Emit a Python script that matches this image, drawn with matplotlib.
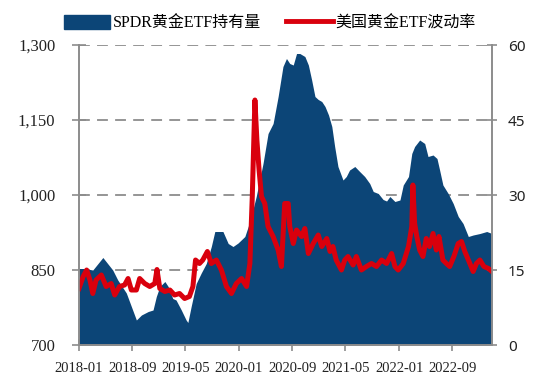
import matplotlib
matplotlib.use('Agg')
import matplotlib.pyplot as plt
import matplotlib.dates as mdates
import pandas as pd
from matplotlib.patches import Patch
from matplotlib.lines import Line2D

plt.rcParams['font.family'] = ['Liberation Serif', 'Noto Sans CJK SC']

# SPDR gold ETF holdings (tonnes, left axis)
spdr_dates = ['2018-01-01', '2018-01-28', '2018-03-05', '2018-04-20', '2018-06-04', '2018-06-27',
              '2018-08-05', '2018-08-28', '2018-09-20', '2018-10-13', '2018-11-13', '2018-12-05',
              '2018-12-20', '2019-01-05', '2019-01-28', '2019-02-12', '2019-03-05', '2019-03-20',
              '2019-04-13', '2019-05-05', '2019-05-13', '2019-05-28', '2019-06-20', '2019-07-13',
              '2019-08-05', '2019-08-28', '2019-09-13', '2019-10-20', '2019-11-13', '2019-12-05',
              '2019-12-28', '2020-01-28', '2020-02-20', '2020-03-20', '2020-04-20', '2020-05-13',
              '2020-06-05', '2020-06-28', '2020-07-20', '2020-08-05', '2020-08-20', '2020-09-05',
              '2020-09-20', '2020-10-05', '2020-10-28', '2020-11-13', '2020-11-28', '2020-12-13',
              '2020-12-28', '2021-01-13', '2021-01-28', '2021-02-13', '2021-02-28', '2021-03-13',
              '2021-03-28', '2021-04-20', '2021-05-05', '2021-05-20', '2021-06-13', '2021-07-05',
              '2021-07-28', '2021-08-20', '2021-09-05', '2021-09-28', '2021-10-20', '2021-11-05',
              '2021-11-20', '2021-12-13', '2022-01-05', '2022-01-20', '2022-02-13', '2022-02-28',
              '2022-03-13', '2022-04-05', '2022-04-28', '2022-05-13', '2022-06-05', '2022-06-23',
              '2022-07-05', '2022-07-20', '2022-08-13', '2022-09-05', '2022-09-28', '2022-10-20',
              '2022-11-13', '2022-12-05', '2023-01-05', '2023-02-05', '2023-03-01']
spdr_values = [853, 853, 850, 875, 850, 830,
               804, 777, 750, 760, 767, 770,
               797, 817, 827, 817, 793, 790,
               770, 750, 745, 777, 823, 844,
               863, 897, 927, 927, 903, 897,
               904, 917, 947, 997, 1063, 1123,
               1143, 1197, 1257, 1273, 1263, 1260,
               1283, 1283, 1277, 1260, 1230, 1197,
               1191, 1187, 1177, 1160, 1137, 1097,
               1057, 1030, 1037, 1050, 1057, 1047,
               1037, 1023, 1007, 1003, 991, 988,
               997, 987, 990, 1020, 1037, 1083,
               1097, 1110, 1103, 1077, 1080, 1073,
               1050, 1020, 1003, 983, 957, 943,
               917, 920, 923, 927, 923]

# US gold ETF volatility (right axis)
vol_dates = ['2018-01-01', '2018-01-20', '2018-02-05', '2018-02-20', '2018-03-05', '2018-03-20',
             '2018-04-13', '2018-05-05', '2018-05-28', '2018-06-13', '2018-07-05', '2018-07-28',
             '2018-08-13', '2018-08-28', '2018-09-20', '2018-10-05', '2018-10-28', '2018-11-20',
             '2018-12-13', '2018-12-23', '2019-01-05', '2019-01-28', '2019-02-20', '2019-03-13',
             '2019-04-05', '2019-04-28', '2019-05-20', '2019-06-05', '2019-06-17', '2019-07-05',
             '2019-07-20', '2019-08-10', '2019-08-28', '2019-09-20', '2019-10-13', '2019-11-05',
             '2019-11-28', '2019-12-20', '2020-01-13', '2020-02-05', '2020-02-20', '2020-03-02',
             '2020-03-14', '2020-03-23', '2020-04-02', '2020-04-13', '2020-04-28', '2020-05-13',
             '2020-06-05', '2020-06-28', '2020-07-13', '2020-07-28', '2020-08-13', '2020-08-20',
             '2020-09-05', '2020-09-20', '2020-10-13', '2020-10-28', '2020-11-13', '2020-12-05',
             '2020-12-28', '2021-01-13', '2021-02-05', '2021-02-20', '2021-03-05', '2021-03-20',
             '2021-04-13', '2021-04-28', '2021-05-13', '2021-06-05', '2021-06-20', '2021-07-13',
             '2021-08-05', '2021-08-28', '2021-09-20', '2021-10-13', '2021-11-05', '2021-11-28',
             '2021-12-13', '2021-12-28', '2022-01-20', '2022-02-13', '2022-02-28', '2022-03-05',
             '2022-03-13', '2022-03-23', '2022-04-05', '2022-04-20', '2022-05-05', '2022-05-20',
             '2022-06-05', '2022-06-20', '2022-07-02', '2022-07-20', '2022-08-05', '2022-08-20',
             '2022-09-08', '2022-09-28', '2022-10-13', '2022-10-28', '2022-11-20', '2022-12-05',
             '2022-12-20', '2023-01-05', '2023-01-23', '2023-02-13', '2023-03-01']
vol_values = [11.3, 13.7, 15.0, 13.0, 10.3, 13.0,
              14.0, 11.7, 12.3, 10.0, 11.7, 12.0,
              13.3, 11.0, 11.0, 13.3, 12.3, 11.7,
              12.3, 15.1, 11.3, 10.7, 11.0, 10.0,
              10.3, 9.3, 9.7, 11.7, 17.0, 16.3,
              17.0, 18.7, 16.3, 17.0, 15.0, 11.7,
              10.3, 12.3, 13.3, 11.7, 16.3, 29.7,
              49.0, 41.0, 35.0, 29.7, 28.3, 23.7,
              21.7, 19.0, 15.7, 28.3, 28.3, 23.7,
              20.3, 23.0, 21.7, 23.3, 18.3, 20.3,
              22.0, 19.7, 21.3, 18.7, 19.7, 17.0,
              15.0, 17.0, 17.7, 16.0, 17.7, 15.0,
              15.7, 16.3, 15.7, 17.0, 16.3, 18.3,
              15.7, 15.0, 16.3, 19.7, 23.7, 32.0,
              24.3, 21.7, 19.0, 17.7, 21.3, 19.7,
              22.3, 19.0, 21.7, 17.0, 16.3, 15.7,
              17.7, 20.3, 20.7, 18.7, 16.3, 14.7,
              16.3, 17.0, 15.7, 15.3, 14.7]

xtick_labels = ['2018-01', '2018-09', '2019-05', '2020-01', '2020-09', '2021-05', '2022-01', '2022-09']
left_ticks = [700, 850, 1000, 1150, 1300]
right_ticks = [0, 15, 30, 45, 60]

blue = '#0c4577'
red = '#d9000d'
grey = '#8c8c8c'

spdr_x = pd.to_datetime(spdr_dates)
vol_x = pd.to_datetime(vol_dates)

fig = plt.figure(figsize=(5.5, 3.86), dpi=100)
ax = fig.add_axes([0.1436, 0.1062, 0.7509, 0.7772])
ax2 = ax.twinx()

ax.fill_between(spdr_x, spdr_values, 700, color=blue, lw=0)
ax2.plot(vol_x, vol_values, color=red, lw=3.6, solid_joinstyle='round')

ax.set_xlim(pd.Timestamp('2018-01-01'), pd.Timestamp('2023-03-01'))
ax.set_ylim(700, 1300)
ax2.set_ylim(0, 60)
ax.set_yticks(left_ticks)
ax.set_yticklabels(['{:,}'.format(v) for v in left_ticks])
ax2.set_yticks(right_ticks)
ax.set_xticks(pd.to_datetime(xtick_labels))
ax.xaxis.set_major_formatter(mdates.DateFormatter('%Y-%m'))

ax.set_axisbelow(True)
ax.yaxis.grid(True, color=grey, ls=(0, (6, 4)), lw=1.3)

for a in (ax, ax2):
    for s in a.spines.values():
        s.set_color(grey)
        s.set_linewidth(1.2)
    a.spines['top'].set_visible(False)
    a.tick_params(colors=grey, width=1.2, direction='inout', labelcolor='#222222')
ax.tick_params(axis='y', labelsize=12, length=10, pad=12)
ax2.tick_params(axis='y', labelsize=11, length=7, pad=8)
for lab in ax2.get_yticklabels():
    lab.set_family('Noto Sans')
ax.tick_params(axis='x', labelsize=10.5, length=8, pad=8)

handles = [Patch(facecolor=blue, edgecolor=blue),
           Line2D([0], [0], color=red, lw=3.5)]
fig.legend(handles, ['SPDR黄金ETF持有量', '美国黄金ETF波动率'], loc='center',
           bbox_to_anchor=(0.49, 0.94), ncol=2, frameon=False, fontsize=11.5,
           handlelength=2.9, handleheight=1.0, handletextpad=0.15, columnspacing=1.6)

fig.savefig('out.png', dpi=100)
